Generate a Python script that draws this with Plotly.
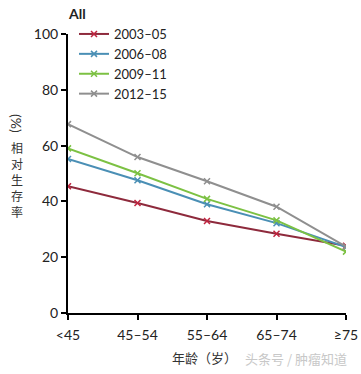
import plotly.graph_objects as go

categories = ["<45", "45–54", "55–64", "65–74", "≥75"]
series_names = ["2003–05", "2006–08", "2009–11", "2012–15"]
v_2003_05 = [45.4, 39.4, 33.0, 28.4, 24.1]
v_2006_08 = [55.2, 47.6, 39.0, 32.2, 23.6]
v_2009_11 = [59.0, 50.1, 40.9, 33.2, 22.0]
v_2012_15 = [67.7, 55.9, 47.2, 38.1, 23.8]
y_ticks = [0, 20, 40, 60, 80, 100]
y_title_chars = ["相", "对", "生", "存", "率"]

series_values = [v_2003_05, v_2006_08, v_2009_11, v_2012_15]
line_colors = ["#8e2a3c", "#4a8fb5", "#7cc143", "#8f8f8f"]
marker_colors = ["#c0243f", "#4a8fb5", "#7cc143", "#8f8f8f"]

FONT = "Lato, 'Open Sans', sans-serif"
x_idx = list(range(len(categories)))

W, H = 361, 374
l, r, t, b = 68, 15, 34, 61
pw, ph = W - l - r, H - t - b

def px(x):
    return (x - l) / pw

def py(y):
    return (H - b - y) / ph

fig = go.Figure()
for name, vals, lc, mc in zip(series_names, series_values, line_colors, marker_colors):
    fig.add_trace(go.Scatter(
        x=x_idx, y=vals, name=name, mode="lines+markers",
        line=dict(color=lc, width=2),
        marker=dict(symbol="x-thin", size=6, color=mc, line=dict(color=mc, width=1.5)),
    ))

ann = [
    dict(text="<b>All</b>", x=px(77), y=py(13)),
    dict(text="(%)", x=px(17), y=py(123), textangle=90, font=dict(size=14, color="#333")),
    dict(text="年龄（岁）", x=px(204), y=py(357),
         font=dict(size=13, color="#333", family="Noto Sans CJK SC")),
    dict(text="头条号 / 肿瘤知道", x=px(296), y=py(358),
         font=dict(size=13, color="#c8c8c8", family="Noto Sans CJK SC")),
]
for i, ch in enumerate(y_title_chars):
    ann.append(dict(text=ch, x=px(17), y=py(147 + 16 * i),
                    font=dict(size=12, color="#333", family="Noto Sans CJK SC")))
for a in ann:
    a.update(xref="paper", yref="paper", showarrow=False, xanchor="center", yanchor="middle")
    a.setdefault("font", dict(size=14, color="#222"))

fig.update_layout(
    width=W, height=H,
    margin=dict(l=l, r=r, t=t, b=b, autoexpand=False),
    paper_bgcolor="white", plot_bgcolor="white",
    font=dict(family=FONT, size=14, color="#222"),
    showlegend=True,
    legend=dict(x=px(74), y=py(19), xanchor="left", yanchor="top",
                bgcolor="rgba(0,0,0,0)", font=dict(size=13, color="#222"),
                tracegroupgap=0),
    xaxis=dict(range=[0, 4], tickvals=x_idx, ticktext=categories,
               showgrid=False, zeroline=False, showline=True, linecolor="black", linewidth=2,
               ticks="outside", ticklen=5, tickwidth=1.5, tickcolor="black",
               ticklabelstandoff=3,
               tickfont=dict(size=14, color="#222")),
    yaxis=dict(range=[0, 100], tickvals=y_ticks,
               showgrid=False, zeroline=False, showline=True, linecolor="black", linewidth=2,
               ticks="outside", ticklen=5, tickwidth=1.5, tickcolor="black",
               tickfont=dict(size=14, color="#222")),
    annotations=ann,
)

fig.write_html("out.html", config={"displayModeBar": False},
               post_script="document.body.style.margin='0';document.body.style.overflow='hidden';")
